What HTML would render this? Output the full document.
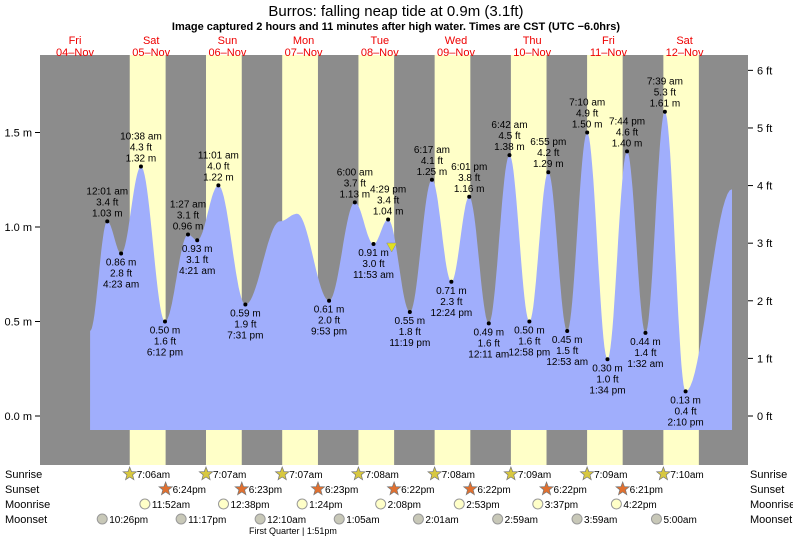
<!DOCTYPE html>
<html><head><meta charset="utf-8"><style>
body{margin:0;background:#fff;font-family:"Liberation Sans",sans-serif}
svg text{font-family:"Liberation Sans",sans-serif}
</style></head><body>
<svg id="c" width="793" height="538" xmlns="http://www.w3.org/2000/svg">
<text x="396" y="16" text-anchor="middle" font-size="15">Burros: falling  neap tide at 0.9m (3.1ft)</text>
<text x="396" y="30" text-anchor="middle" font-size="11" font-weight="bold">Image captured 2 hours and 11 minutes after high water. Times are CST (UTC −6.0hrs)</text>
<g id="g"></g>
</svg>
<script>
const dayNames=["Fri","Sat","Sun","Mon","Tue","Wed","Thu","Fri","Sat"];
const dayDates=["04–Nov","05–Nov","06–Nov","07–Nov","08–Nov","09–Nov","10–Nov","11–Nov","12–Nov"];
// tide points: hours since Fri 04-Nov 00:00, metres, label time, isLabeled
const tideHours=[18.6,24.02,28.38,34.63,42.2,49.45,52.35,59.02,67.52,78.4,83.8,93.88,102.0,107.88,112.48,119.32,126.28,132.4,138.02,144.18,150.7,156.97,162.92,168.88,175.17,181.57,187.73,193.53,199.65,206.17,220.8];
const tideMeters=[0.45,1.03,0.86,1.32,0.50,0.96,0.93,1.22,0.59,1.03,1.07,0.61,1.13,0.91,1.04,0.55,1.25,0.71,1.16,0.49,1.38,0.50,1.29,0.45,1.50,0.30,1.40,0.44,1.61,0.13,1.2];
const tideTimes=["","12:01 am","4:23 am","10:38 am","6:12 pm","1:27 am","4:21 am","11:01 am","7:31 pm","","","9:53 pm","6:00 am","11:53 am","4:29 pm","11:19 pm","6:17 am","12:24 pm","6:01 pm","12:11 am","6:42 am","12:58 pm","6:55 pm","12:53 am","7:10 am","1:34 pm","7:44 pm","1:32 am","7:39 am","2:10 pm",""];
const tideHigh=[0,1,0,1,0,1,0,1,0,0,0,0,1,0,1,0,1,0,1,0,1,0,1,0,1,0,1,0,1,0,0];
const sunriseTimes=["7:06am","7:07am","7:07am","7:08am","7:08am","7:09am","7:09am","7:10am"];
const sunriseHours=[7.1,7.12,7.12,7.13,7.13,7.15,7.15,7.17];
const sunsetTimes=["6:24pm","6:23pm","6:23pm","6:22pm","6:22pm","6:22pm","6:21pm"];
const sunsetHours=[18.4,18.38,18.38,18.37,18.37,18.37,18.35];
const moonriseTimes=["11:52am","12:38pm","1:24pm","2:08pm","2:53pm","3:37pm","4:22pm"];
const moonriseHours=[11.87,12.63,13.4,14.13,14.88,15.62,16.37];
const moonsetTimes=["10:26pm","11:17pm","12:10am","1:05am","2:01am","2:59am","3:59am","5:00am"];
const moonsetHours=[22.43,47.28,72.17,97.08,122.02,146.98,171.98,197.0];
const mTicks=[0,0.5,1.0,1.5];
const ftTicks=[0,1,2,3,4,5,6];
const NS="http://www.w3.org/2000/svg";
const g=document.getElementById('g');
const X=h=>31+h*3.175, Y=m=>416-m*189;
function el(t,a,p){const e=document.createElementNS(NS,t);for(const k in a)e.setAttribute(k,a[k]);(p||g).appendChild(e);return e;}
function tx(x,y,s,o){const e=el('text',Object.assign({x:x,y:y,'font-size':10},o||{}));e.textContent=s;return e;}
// background
let bg=el('rect',{x:40,y:55,width:708,height:410,fill:'#8c8c8c'});

for(let d=1;d<=8;d++){
  const x1=X(d*24+sunriseHours[d-1]),x2=X(d*24+(sunsetHours[d-1]||18.35));
  const r=el('rect',{x:x1,y:55,width:Math.min(x2,748)-x1,height:410,fill:'#ffffc8'});
  
}
// curve
let pts=[];
for(let i=0;i<tideHours.length-1;i++){
  const h0=tideHours[i],h1=tideHours[i+1],m0=tideMeters[i],m1=tideMeters[i+1];
  for(let s=0;s<20;s++){const t=s/20;const f=(1-Math.cos(Math.PI*t))/2;pts.push([X(h0+(h1-h0)*t),Y(m0+(m1-m0)*f)]);}
}
pts.push([X(tideHours[tideHours.length-1]),Y(tideMeters[tideMeters.length-1])]);
let d='M'+pts[0][0]+','+430+' '+pts.map(p=>'L'+p[0].toFixed(1)+','+p[1].toFixed(1)).join(' ')+' L'+pts[pts.length-1][0]+',430 Z';
let area=el('path',{d:d,fill:'#a0aefc'});

// labels
for(let i=0;i<tideHours.length;i++){
  if(!tideTimes[i])continue;
  const x=X(tideHours[i]),y=Y(tideMeters[i]);
  const dot=el('circle',{cx:x,cy:y,r:2,fill:'#000'});
  
  const ft=(tideMeters[i]*3.28084).toFixed(1)+' ft',m=tideMeters[i].toFixed(2)+' m';
  const lines=tideHigh[i]?[tideTimes[i],ft,m]:[m,ft,tideTimes[i]];
  const y0=tideHigh[i]?y-27:y+12;
  lines.forEach((s,k)=>{const t=tx(x,y0+k*11,s,{'text-anchor':'middle'});});
}
// current marker
let cm=el('path',{d:`M${X(113.6)-5},243 L${X(113.6)+5},243 L${X(113.6)},252 Z`,fill:'#e0e020',stroke:'#888','stroke-width':0.5});

// axes
mTicks.forEach(m=>{el('line',{x1:35,x2:40,y1:Y(m),y2:Y(m),stroke:'#000'});const t=tx(32,Y(m)+4,m.toFixed(1)+' m',{'text-anchor':'end','font-size':11});});
ftTicks.forEach(f=>{const y=Y(f*0.3048);el('line',{x1:748,x2:753,y1:y,y2:y,stroke:'#000'});const t=tx(757,y+4,f+' ft',{'font-size':11});});
dayNames.forEach((n,i)=>{const x=75+i*76.2;const a=tx(x,44,n,{'text-anchor':'middle','font-size':11,fill:'#e00'});
const b=tx(x,56,dayDates[i],{'text-anchor':'middle','font-size':11,fill:'#e00'});});
// rows
[['Sunrise',478],['Sunset',493],['Moonrise',508],['Moonset',523]].forEach(([s,y])=>{
 const a=tx(5,y,s,{'font-size':11});
 const b=tx(750,y,s,{'font-size':11});});
function star(x,y,fill){let p='';for(let k=0;k<10;k++){const r=k%2?3:7,a=-Math.PI/2+k*Math.PI/5;p+=(k?'L':'M')+(x+r*Math.cos(a)).toFixed(1)+','+(y+r*Math.sin(a)).toFixed(1);}return el('path',{d:p+'Z',fill:fill,stroke:'#777','stroke-width':0.7});}
sunriseTimes.forEach((s,i)=>{const x=X((i+1)*24+sunriseHours[i]);const st=star(x,474,'#d8c840');const t=tx(x+7,478,s);});
sunsetTimes.forEach((s,i)=>{const x=X((i+1)*24+sunsetHours[i]);const st=star(x,489,'#e07030');const t=tx(x+7,493,s);});
moonriseTimes.forEach((s,i)=>{const x=X((i+1)*24+moonriseHours[i]);const c=el('circle',{cx:x,cy:504,r:5,fill:'#ffffc8',stroke:'#999'});const t=tx(x+7,508,s);});
moonsetTimes.forEach((s,i)=>{const x=X(moonsetHours[i]);const c=el('circle',{cx:x,cy:519,r:5,fill:'#c8c8b8',stroke:'#999'});const t=tx(x+7,523,s);});
const fq=tx(249,534,'First Quarter | 1:51pm',{'font-size':9});
</script>
</body></html>
